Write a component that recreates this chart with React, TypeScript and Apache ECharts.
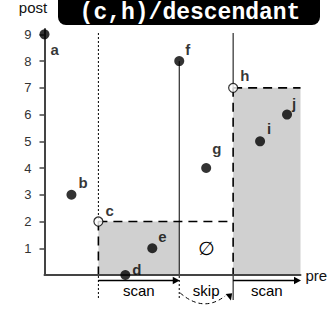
import React, { useEffect, useRef } from "react";
import * as echarts from "echarts";

// ---- data ----
const pointNames = ["a", "b", "c", "d", "e", "f", "g", "h", "i", "j"];
const preValues = [0, 1, 2, 3, 4, 5, 6, 7, 8, 9];
const postValues = [9, 3, 2, 0, 1, 8, 4, 7, 5, 6];
const hollowPoints = ["c", "h"];
const yTickValues = [1, 2, 3, 4, 5, 6, 7, 8, 9];
// [pre0, post0, pre1, post1]
const shadedRegions = [
  [2, 0, 5, 2],
  [7, 0, 9.5, 7],
];
// [pre0, post0, pre1, post1]
const guideLines = [
  [2, 9.05, 2, 2],
  [2, 2, 2, 0],
  [2, 2, 7, 2],
  [5, 8, 5, 0],
  [7, 9.05, 7, 7],
  [7, 7, 7, 0],
  [7, 7, 9.5, 7],
];
const phaseNames = ["scan", "skip", "scan"];
const phaseStart = [2, 5, 7];
const phaseEnd = [5, 7, 9.5];
const emptySetPos = [6, 1];
const titleText = "(c,h)/descendant";

// ---- styles ----
const guideLineKinds = ["fine", "dash", "dash", "solid", "solid", "dash", "dash"];
const boundaryKinds = ["fine", "fine", "solid"];
const labelOffsets: Record<string, number[]> = {
  a: [6, 15],
  b: [7, -12],
  c: [7, -11],
  d: [7, -5.5],
  e: [6, -11.5],
  f: [6, -12],
  g: [6, -20],
  h: [7, -12.5],
  i: [7, -12.5],
  j: [5, -11],
};
const lineStyleFor = (kind: string) => {
  if (kind === "fine") return { stroke: "#000", lineWidth: 1, lineDash: [2, 2] };
  if (kind === "dash") return { stroke: "#000", lineWidth: 1.6, lineDash: [9, 6] };
  return { stroke: "#000", lineWidth: 1 };
};
const SANS = '"Liberation Sans", Arial, Helvetica, sans-serif';

export default function App() {
  const ref = useRef<HTMLDivElement>(null);

  useEffect(() => {
    document.body.style.margin = "0";
    if (!ref.current) return;
    const chart = echarts.init(ref.current, null, { renderer: "svg" });

    const scatterData = pointNames.map((n, i) => {
      const hollow = hollowPoints.includes(n);
      return {
        name: n,
        value: [preValues[i], postValues[i]],
        symbolSize: hollow ? 9 : 10,
        itemStyle: hollow
          ? { color: "#fff", borderColor: "#000", borderWidth: 1.2 }
          : { color: "#000" },
        label: { offset: labelOffsets[n] },
      };
    });

    const option: any = {
      animation: false,
      grid: { left: 44.5, right: 33.5, top: 27.6, bottom: 37 },
      xAxis: {
        type: "value",
        min: 0,
        max: 9.5,
        z: 3,
        name: "pre",
        nameLocation: "end",
        nameGap: 5,
        nameTextStyle: { fontSize: 15, color: "#111", fontFamily: SANS },
        axisLine: { lineStyle: { color: "#444", width: 2 } },
        axisTick: { show: false },
        axisLabel: { show: false },
        splitLine: { show: false },
      },
      yAxis: {
        type: "value",
        min: 0,
        max: 9.2,
        z: 3,
        name: "post",
        nameLocation: "end",
        nameGap: 14,
        nameTextStyle: {
          fontSize: 15,
          color: "#111",
          fontFamily: SANS,
          align: "center",
          padding: [0, 23, 0, 0],
        },
        axisLine: { lineStyle: { color: "#444", width: 2 } },
        axisTick: {
          show: true,
          length: 5,
          customValues: yTickValues,
          lineStyle: { color: "#444", width: 1.5 },
        },
        axisLabel: {
          customValues: yTickValues,
          margin: 13,
          fontSize: 13,
          color: "#333",
          fontFamily: SANS,
        },
        splitLine: { show: false },
      },
      series: [
        {
          type: "custom",
          z: 1,
          data: shadedRegions,
          encode: { x: [0, 2], y: [1, 3] },
          renderItem: (params: any, api: any) => {
            const p0 = api.coord([api.value(0), api.value(1)]);
            const p1 = api.coord([api.value(2), api.value(3)]);
            return {
              type: "rect",
              shape: {
                x: Math.min(p0[0], p1[0]),
                y: Math.min(p0[1], p1[1]),
                width: Math.abs(p1[0] - p0[0]),
                height: Math.abs(p1[1] - p0[1]),
              },
              style: { fill: "#d0d0d0" },
            };
          },
        },
        {
          type: "custom",
          z: 2,
          data: guideLines,
          encode: { x: [0, 2], y: [1, 3] },
          renderItem: (params: any, api: any) => {
            const p0 = api.coord([api.value(0), api.value(1)]);
            const p1 = api.coord([api.value(2), api.value(3)]);
            return {
              type: "line",
              shape: { x1: p0[0], y1: p0[1], x2: p1[0], y2: p1[1] },
              style: lineStyleFor(guideLineKinds[params.dataIndex]),
            };
          },
        },
        {
          type: "custom",
          z: 2,
          data: phaseStart.map((s, i) => [s, phaseEnd[i]]),
          encode: { x: [0, 1] },
          renderItem: (params: any, api: any) => {
            const i = params.dataIndex;
            const a = api.coord([api.value(0), 0]);
            const b = api.coord([api.value(1), 0]);
            const ay = a[1];
            const children: any[] = [];
            children.push({
              type: "line",
              shape: { x1: a[0], y1: ay + 1, x2: a[0], y2: ay + 25 },
              style: lineStyleFor(boundaryKinds[i]),
            });
            if (phaseNames[i] === "scan") {
              children.push({
                type: "line",
                shape: { x1: a[0], y1: ay + 5.5, x2: b[0] - 5, y2: ay + 5.5 },
                style: { stroke: "#000", lineWidth: 1.5 },
              });
              children.push({
                type: "polygon",
                shape: {
                  points: [
                    [b[0] + 0.5, ay + 5.5],
                    [b[0] - 6.5, ay + 1.8],
                    [b[0] - 6.5, ay + 9.2],
                  ],
                },
                style: { fill: "#000" },
              });
            } else {
              const mx = (a[0] + b[0]) / 2;
              children.push({
                type: "bezierCurve",
                shape: {
                  x1: a[0] + 1,
                  y1: ay + 18,
                  x2: b[0] - 8,
                  y2: ay + 21,
                  cpx1: mx - 3,
                  cpy1: ay + 38,
                },
                style: { stroke: "#000", lineWidth: 1, lineDash: [4, 3], fill: null },
              });
              children.push({
                type: "polygon",
                shape: {
                  points: [
                    [b[0] - 7.5, ay + 19],
                    [b[0] - 1, ay + 18.3],
                    [b[0] - 2.2, ay + 25.5],
                  ],
                },
                style: { fill: "#000" },
              });
            }
            children.push({
              type: "text",
              style: {
                text: phaseNames[i],
                x: (a[0] + b[0]) / 2,
                y: ay + 15.5,
                align: "center",
                verticalAlign: "middle",
                fontSize: 15,
                fontFamily: SANS,
                fill: "#000",
              },
            });
            return { type: "group", children };
          },
        },
        {
          type: "custom",
          z: 2,
          data: [emptySetPos],
          encode: { x: 0, y: 1 },
          renderItem: (params: any, api: any) => {
            const p = api.coord([api.value(0), api.value(1)]);
            return {
              type: "text",
              style: {
                text: "∅",
                x: p[0],
                y: p[1],
                align: "center",
                verticalAlign: "middle",
                fontSize: 19,
                fontFamily: '"DejaVu Sans", sans-serif',
                fill: "#000",
              },
            };
          },
        },
        {
          type: "scatter",
          z: 4,
          symbol: "circle",
          data: scatterData,
          label: {
            show: true,
            position: "inside",
            align: "left",
            verticalAlign: "middle",
            formatter: (p: any) => p.name,
            fontSize: 15,
            fontWeight: "bold",
            fontFamily: SANS,
            color: "#000",
          },
        },
      ],
      graphic: [
        {
          type: "group",
          children: [
            {
              type: "rect",
              shape: { x: 58, y: -10, width: 262, height: 35, r: 8 },
              style: { fill: "#000" },
            },
            {
              type: "text",
              style: {
                text: titleText,
                x: 190,
                y: 12.5,
                align: "center",
                verticalAlign: "middle",
                fontSize: 23,
                fontWeight: "bold",
                fontFamily: '"Liberation Mono", "Courier New", monospace',
                fill: "#fff",
              },
            },
          ],
        },
      ],
    };

    chart.setOption(option);
    return () => chart.dispose();
  }, []);

  return <div ref={ref} style={{ width: 334, height: 312 }} />;
}
